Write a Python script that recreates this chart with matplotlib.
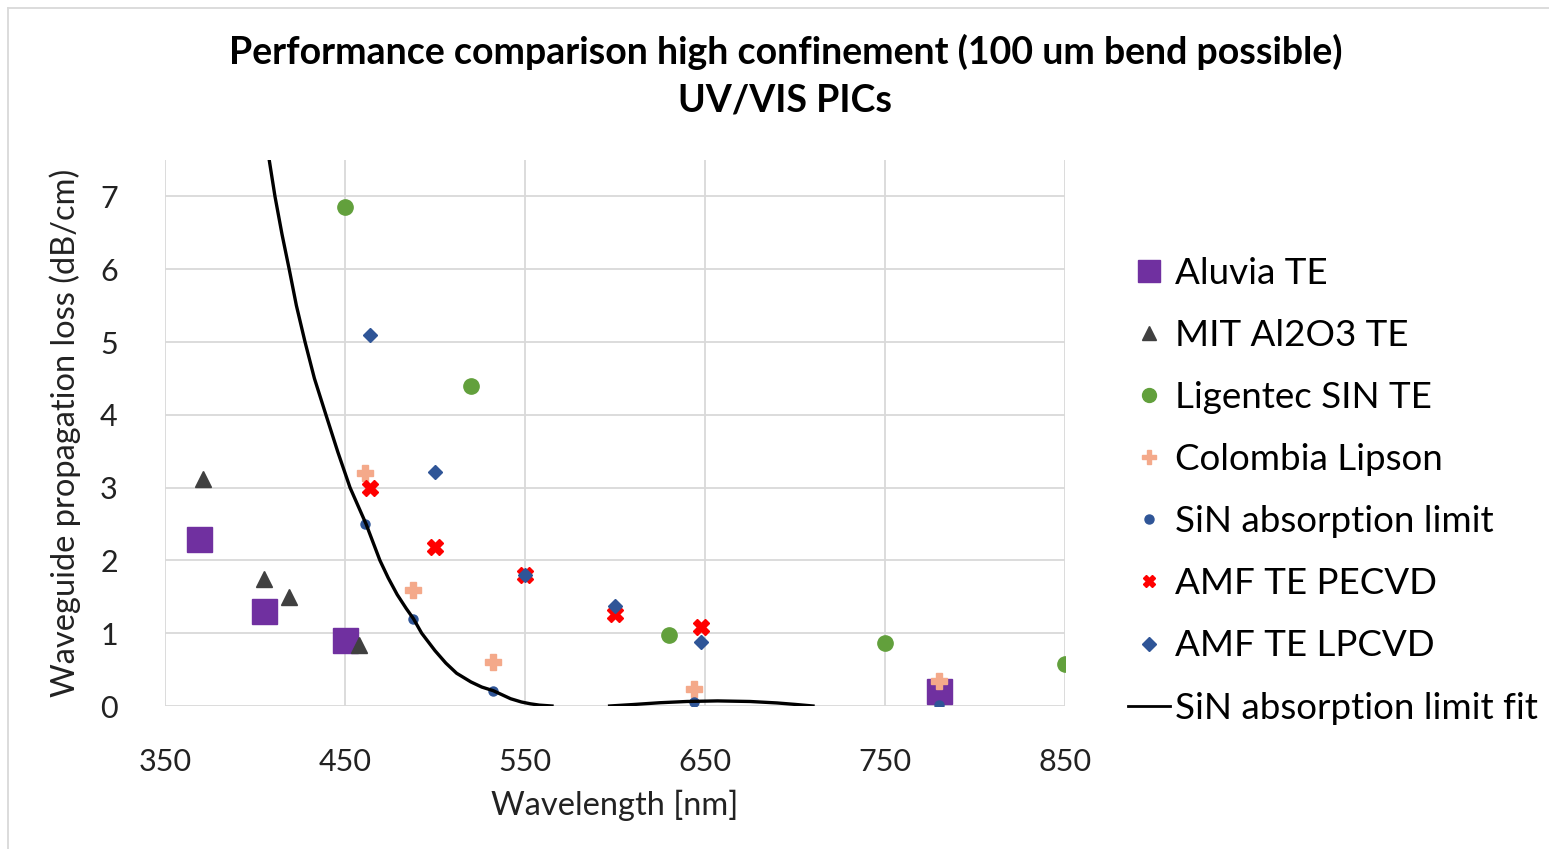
import numpy as np
import matplotlib
matplotlib.use("Agg")
import matplotlib.pyplot as plt
from matplotlib.lines import Line2D

plt.rcParams['font.family'] = ['Lato', 'DejaVu Sans']

# Datos (longitud de onda en nm, pérdidas en dB/cm)
aluvia_x = [369, 405, 450, 780]
aluvia_y = [2.3, 1.31, 0.9, 0.2]

mit_x = [371, 405, 419, 458]
mit_y = [3.12, 1.75, 1.5, 0.84]

ligentec_x = [450, 520, 630, 750, 850]
ligentec_y = [6.85, 4.39, 0.97, 0.86, 0.58]

colombia_x = [461, 488, 532, 644, 780]
colombia_y = [3.2, 1.6, 0.6, 0.24, 0.34]

sin_x = [461, 488, 532, 644, 780]
sin_y = [2.5, 1.2, 0.21, 0.05, 0.02]

pecvd_x = [464, 500, 550, 600, 648]
pecvd_y = [2.99, 2.19, 1.8, 1.27, 1.08]

lpcvd_x = [464, 500, 550, 600, 648]
lpcvd_y = [5.1, 3.21, 1.8, 1.38, 0.88]

# curva de ajuste (leída punto a punto; hueco donde queda bajo 0)
fit_x = [407.9, 411.1, 415, 419, 423, 427.8, 433, 439.4, 446, 452.8, 461.7, 469.4,
         474, 479, 484, 488, 492.6, 500, 506, 512, 520, 526, 532.4, 542, 548,
         553, 558, 565, np.nan,
         597, 610, 625, 640, 657, 675, 690, 700, 710]
fit_y = [7.5, 7.0, 6.48, 6.0, 5.5, 5.0, 4.5, 4.0, 3.49, 3.0, 2.5, 2.0,
         1.76, 1.53, 1.34, 1.2, 1.0, 0.76, 0.59, 0.45, 0.33, 0.26, 0.21, 0.1, 0.055,
         0.03, 0.012, 0.0, np.nan,
         0.0, 0.02, 0.045, 0.062, 0.07, 0.062, 0.042, 0.022, 0.0]

xticks = [350, 450, 550, 650, 750, 850]
yticks = [0, 1, 2, 3, 4, 5, 6, 7]

fig = plt.figure(figsize=(15.49, 8.49), dpi=100)
ax = fig.add_axes([165 / 1549, 1 - 706 / 849, 900 / 1549, 546 / 849])

ax.plot(aluvia_x, aluvia_y, 's', color='#7030A0', ms=18, ls='none', label='Aluvia TE')
ax.plot(mit_x, mit_y, '^', color='#404040', ms=12, ls='none', label='MIT Al2O3 TE')
ax.plot(ligentec_x, ligentec_y, 'o', color='#62A03C', ms=11, ls='none', label='Ligentec SIN TE')
ax.plot(colombia_x, colombia_y, 'P', color='#F4A98A', ms=11, ls='none', label='Colombia Lipson')
ax.plot(sin_x, sin_y, 'o', color='#2F5597', ms=6.5, ls='none', label='SiN absorption limit')
ax.plot(pecvd_x, pecvd_y, 'X', color='#FF0000', ms=11, ls='none', label='AMF TE PECVD')
ax.plot(lpcvd_x, lpcvd_y, 'D', color='#2F5597', ms=7, ls='none', label='AMF TE LPCVD')
ax.plot(fit_x, fit_y, '-', color='black', lw=2.4, label='SiN absorption limit fit', zorder=5)

ax.set_xlim(350, 850)
ax.set_ylim(0, 7.5)
ax.set_xticks(xticks)
ax.set_yticks(yticks)
ax.grid(True, color='#d9d9d9', lw=1.3)
ax.set_axisbelow(True)
for s in ax.spines.values():
    s.set_visible(False)
ax.tick_params(length=0, labelsize=22, colors='#222222')
ax.tick_params(axis='x', pad=30)
ax.tick_params(axis='y', pad=34)

ax.set_xlabel('Wavelength [nm]', fontsize=23.5, color='#222222', labelpad=10)
ax.set_ylabel('Waveguide propagation loss (dB/cm)', fontsize=23.5, color='#222222', labelpad=14)

fig.text(0.507, 1 - 52 / 849, 'Performance comparison high confinement (100 um bend possible)',
         ha='center', va='center', fontsize=27, fontweight='bold')
fig.text(0.507, 1 - 100 / 849, 'UV/VIS PICs', ha='center', va='center',
         fontsize=27, fontweight='bold')

# leyenda con marcadores más pequeños
handles = [
    Line2D([], [], marker='s', color='#7030A0', ms=16, ls='none'),
    Line2D([], [], marker='^', color='#404040', ms=10, ls='none'),
    Line2D([], [], marker='o', color='#62A03C', ms=10, ls='none'),
    Line2D([], [], marker='P', color='#F4A98A', ms=10, ls='none'),
    Line2D([], [], marker='o', color='#2F5597', ms=6.5, ls='none'),
    Line2D([], [], marker='X', color='#FF0000', ms=9, ls='none'),
    Line2D([], [], marker='D', color='#2F5597', ms=7, ls='none'),
    Line2D([], [], color='black', lw=2),
]
labels = ['Aluvia TE', 'MIT Al2O3 TE', 'Ligentec SIN TE', 'Colombia Lipson',
          'SiN absorption limit', 'AMF TE PECVD', 'AMF TE LPCVD', 'SiN absorption limit fit']
fig.legend(handles, labels, loc='upper left', bbox_to_anchor=(1128 / 1549, 1 - 257 / 849),
           frameon=False, fontsize=26.5, labelspacing=0.79, handlelength=1.14,
           handletextpad=0.14, borderaxespad=0, borderpad=0)

# borde del área del gráfico
fig.add_artist(Line2D([8 / 1549, 8 / 1549], [0, 1 - 8 / 849], color='#d9d9d9', lw=1.3))
fig.add_artist(Line2D([8 / 1549, 1], [1 - 8 / 849, 1 - 8 / 849], color='#d9d9d9', lw=1.3))

fig.savefig('out.png', dpi=100)
